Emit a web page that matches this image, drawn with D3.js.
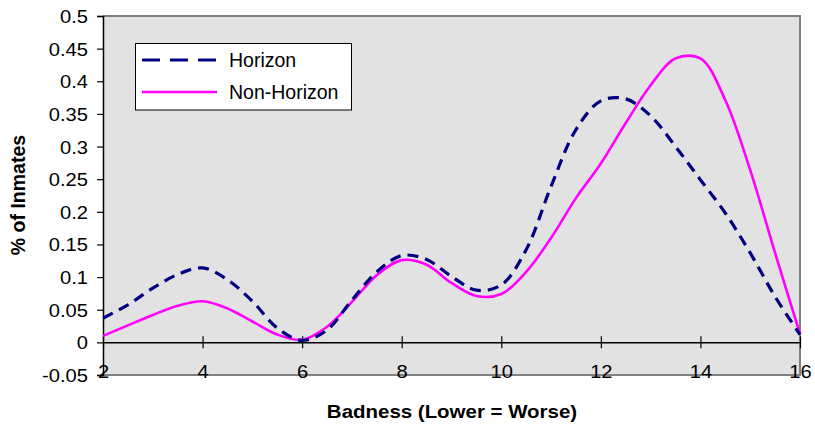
<!DOCTYPE html>
<html>
<head>
<meta charset="utf-8">
<script src="https://cdn.jsdelivr.net/npm/d3@7"></script>
<style>
  html, body { margin: 0; padding: 0; background: #ffffff; }
  svg { display: block; font-family: "Liberation Sans", Arial, sans-serif; }
</style>
</head>
<body>
<svg id="chart" width="815" height="430"></svg>
<script>
// Badness score (x) sampled every half point
const badness = [2, 2.5, 3, 3.5, 4, 4.5, 5, 5.5, 6, 6.5, 7, 7.5, 8, 8.5, 9, 9.5,
                 10, 10.5, 11, 11.5, 12, 12.5, 13, 13.5, 14, 14.5, 15, 15.5, 16];

// Share of inmates, Horizon programme
const horizon = [0.037, 0.0575, 0.083, 0.104, 0.114, 0.096, 0.063, 0.022, 0.003, 0.019,
                 0.065, 0.108, 0.133, 0.127, 0.101, 0.080, 0.088, 0.142, 0.239, 0.326,
                 0.370, 0.373, 0.347, 0.300, 0.249, 0.198, 0.137, 0.070, 0.012];

// Share of inmates, Non-Horizon
const nonHorizon = [0.010, 0.026, 0.042, 0.056, 0.063, 0.052, 0.032, 0.012, 0.004, 0.024,
                    0.062, 0.103, 0.126, 0.119, 0.091, 0.071, 0.074, 0.108, 0.160, 0.221,
                    0.274, 0.336, 0.394, 0.435, 0.435, 0.371, 0.264, 0.137, 0.013];

const xTicks = [2, 4, 6, 8, 10, 12, 14, 16];
const yTicks = [-0.05, 0, 0.05, 0.1, 0.15, 0.2, 0.25, 0.3, 0.35, 0.4, 0.45, 0.5];

const seriesNames = ["Horizon", "Non-Horizon"];

const svg = d3.select("#chart");

const plot = { left: 103, right: 800, top: 16, bottom: 375 };
const x = d3.scaleLinear().domain([2, 16]).range([plot.left, plot.right]);
const y = d3.scaleLinear().domain([-0.05, 0.5]).range([plot.bottom, plot.top]);

const stretch = 1.12; // horizontally widened label lettering

// plot area
svg.append("rect")
  .attr("x", plot.left).attr("y", plot.top)
  .attr("width", plot.right - plot.left).attr("height", plot.bottom - plot.top)
  .attr("fill", "#e2e2e2");

// frame: top, right and bottom edges
svg.append("path")
  .attr("d", `M${plot.left},${plot.top}H${plot.right}V${plot.bottom}H${plot.left}`)
  .attr("fill", "none").attr("stroke", "#808080").attr("stroke-width", 2);

// y axis (plain hyphen for negatives)
const yAxis = svg.append("g")
  .attr("transform", `translate(${plot.left},0)`)
  .call(d3.axisLeft(y).tickValues(yTicks).tickSize(6).tickPadding(0)
    .tickFormat(d => String(+d.toFixed(2))));
yAxis.select(".domain").attr("stroke", "#000").attr("stroke-width", 1.5);
yAxis.selectAll(".tick line").attr("stroke", "#000").attr("stroke-width", 1.2);
yAxis.selectAll(".tick text")
  .attr("x", -15 / stretch).attr("dy", "0.36em")
  .attr("transform", `scale(${stretch},1)`)
  .attr("font-size", 18).attr("fill", "#000")
  .attr("font-family", "Liberation Sans, Arial, sans-serif");

// x axis along y = 0, with crossing tick marks
const xAxis = svg.append("g")
  .attr("transform", `translate(0,${y(0)})`)
  .call(d3.axisBottom(x).tickValues(xTicks).tickSizeInner(6).tickSizeOuter(0).tickFormat(""));
xAxis.select(".domain").attr("stroke", "#000").attr("stroke-width", 1.5);
xAxis.selectAll(".tick line").attr("y1", -6).attr("y2", 6)
  .attr("stroke", "#000").attr("stroke-width", 1.2);

// x tick labels sit under the plot area
const xLabels = svg.append("g")
  .attr("transform", `translate(0,${plot.bottom})`)
  .call(d3.axisBottom(x).tickValues(xTicks).tickSize(0).tickPadding(0).tickFormat(d3.format("d")));
xLabels.select(".domain").remove();
xLabels.selectAll(".tick text")
  .attr("y", 3).attr("dy", 0)
  .attr("transform", `scale(${stretch},1)`)
  .attr("font-size", 18).attr("fill", "#000")
  .attr("font-family", "Liberation Sans, Arial, sans-serif");

// series lines
const line = d3.line().curve(d3.curveCatmullRom.alpha(0.5));

svg.append("path")
  .attr("d", line(badness.map((b, i) => [x(b), y(nonHorizon[i])])))
  .attr("fill", "none").attr("stroke", "#ff00ff").attr("stroke-width", 2.6)
  .attr("stroke-linejoin", "round");

svg.append("path")
  .attr("d", line(badness.map((b, i) => [x(b), y(horizon[i])])))
  .attr("fill", "none").attr("stroke", "#000080").attr("stroke-width", 3.2)
  .attr("stroke-dasharray", "11,7");

// axis titles
svg.append("text")
  .attr("transform", `translate(452,418) scale(1.1,1)`)
  .attr("text-anchor", "middle").attr("font-weight", "bold").attr("font-size", 18.6)
  .text("Badness (Lower = Worse)");

svg.append("text")
  .attr("transform", "translate(25,195) rotate(-90)")
  .attr("text-anchor", "middle").attr("font-weight", "bold").attr("font-size", 19.5)
  .text("% of Inmates");

// legend
const legend = svg.append("g");
legend.append("rect")
  .attr("x", 135.5).attr("y", 43.5).attr("width", 216).attr("height", 66.5)
  .attr("fill", "#ffffff").attr("stroke", "#000").attr("stroke-width", 1);

const legendStyles = [
  { color: "#000080", width: 3.2, dash: "18,10" },
  { color: "#ff00ff", width: 2.6, dash: null }
];
seriesNames.forEach((name, i) => {
  const cy = 60 + i * 32;
  legend.append("line")
    .attr("x1", 142).attr("x2", 217).attr("y1", cy).attr("y2", cy)
    .attr("stroke", legendStyles[i].color).attr("stroke-width", legendStyles[i].width)
    .attr("stroke-dasharray", legendStyles[i].dash);
  legend.append("text")
    .attr("x", 229).attr("y", cy + 7)
    .attr("font-size", 19.5).attr("fill", "#000")
    .text(name);
});
</script>
</body>
</html>
